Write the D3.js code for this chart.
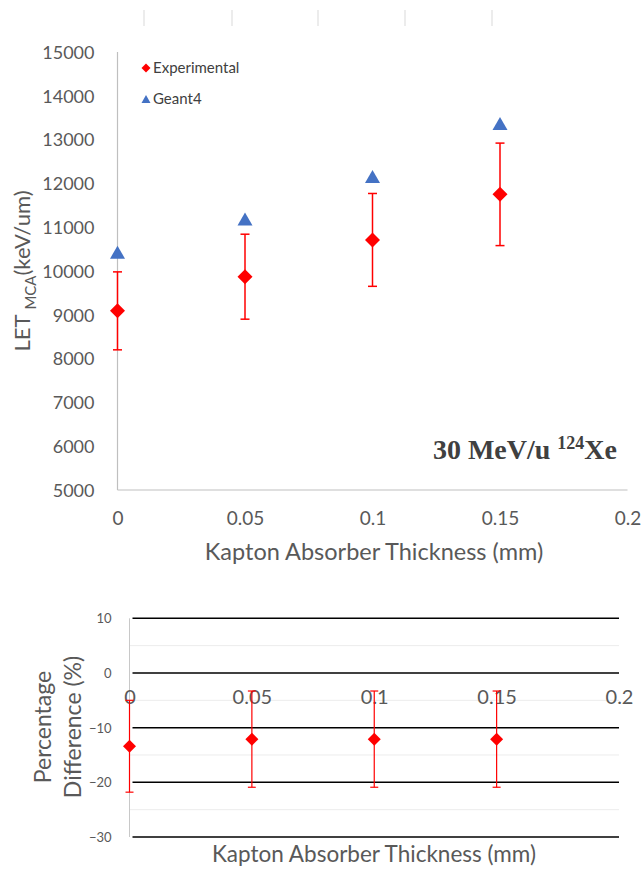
<!DOCTYPE html>
<html><head><meta charset="utf-8">
<script src="https://cdn.jsdelivr.net/npm/d3@7"></script>
<style>
html,body{margin:0;padding:0;background:#fff;}
svg{display:block;}
text{font-family:Lato,"Open Sans",sans-serif;}
</style></head>
<body>
<svg id="c" width="643" height="869"></svg>
<script>
// ---- data ----
const thickness = [0, 0.05, 0.1, 0.15];
const expLET = [9090, 9870, 10710, 11750];
const expErr = [890, 970, 1060, 1170];
const geant4LET = [10430, 11190, 12160, 13370];
const pctDiff = [-13.4, -12.1, -12.1, -12.1];
const pctErr = [8.4, 8.8, 8.8, 8.8];
const topYTicks = [5000, 6000, 7000, 8000, 9000, 10000, 11000, 12000, 13000, 14000, 15000];
const xTicks = [0, 0.05, 0.1, 0.15, 0.2];
const xTickLabels = ["0", "0.05", "0.1", "0.15", "0.2"];
const botYTicks = [-30, -20, -10, 0, 10];
const botMinor = [-25, -15, -5, 5];
const legendNames = ["Experimental", "Geant4"];

const svg = d3.select("#c");
const gray = "#595959";
const red = "#FF0000";
const blue = "#4472C4";

// decorative marks at the top (residue of cropped figure)
svg.selectAll("line.topmark").data([144, 232, 318, 405, 492]).enter().append("line")
  .attr("x1", d => d).attr("x2", d => d).attr("y1", 10).attr("y2", 26)
  .attr("stroke", "#d9d9d9").attr("stroke-width", 1);

// ================= TOP CHART =================
const x1 = d3.scaleLinear().domain([0, 0.2]).range([117.5, 627.5]);
const y1 = d3.scaleLinear().domain([5000, 15000]).range([490, 52]);

svg.append("line").attr("x1", x1(0)).attr("x2", x1(0)).attr("y1", y1(15000)).attr("y2", y1(5000))
  .attr("stroke", "#bfbfbf").attr("stroke-width", 1.2);
svg.append("line").attr("x1", x1(0)).attr("x2", x1(0.2)).attr("y1", y1(5000)).attr("y2", y1(5000))
  .attr("stroke", "#bfbfbf").attr("stroke-width", 1.2);

const yAx1 = svg.append("g").attr("transform", `translate(${x1(0) - 20},0)`)
  .call(d3.axisLeft(y1).tickValues(topYTicks).tickSize(0).tickFormat(d3.format("d")));
yAx1.select(".domain").remove();
yAx1.selectAll("text").attr("fill", gray).style("font-size", "18px").attr("dy", "0.35em");

const xAx1 = svg.append("g").attr("transform", `translate(0,${y1(5000) + 18})`)
  .call(d3.axisBottom(x1).tickValues(xTicks).tickSize(0).tickFormat((d, i) => xTickLabels[i]));
xAx1.select(".domain").remove();
xAx1.selectAll("text").attr("fill", gray).style("font-size", "19px").attr("dy", "0.71em");

svg.append("text").attr("x", 374).attr("y", 560).attr("text-anchor", "middle")
  .attr("fill", gray).style("font-size", "23.5px").text("Kapton Absorber Thickness (mm)");

const yl = svg.append("text").attr("transform", "translate(30,271) rotate(-90)")
  .attr("text-anchor", "middle").attr("fill", gray).style("font-size", "22px");
yl.append("tspan").text("LET");
yl.append("tspan").attr("dx", 5).attr("dy", 6).style("font-size", "15px").text("MCA");
yl.append("tspan").attr("dy", -6).text("(keV/um)");

// annotation
const ann = svg.append("text").attr("x", 617).attr("y", 459).attr("text-anchor", "end")
  .attr("fill", "#404040").style("font-family", "'Liberation Serif','DejaVu Serif',serif")
  .style("font-weight", "bold").style("font-size", "28px");
ann.append("tspan").text("30 MeV/u ");
ann.append("tspan").attr("dy", -10).style("font-size", "18px").text("124");
ann.append("tspan").attr("dy", 10).text("Xe");

// error bars top
const eb1 = svg.append("g");
thickness.forEach((t, i) => {
  const cx = x1(t), lo = y1(expLET[i] - expErr[i]), hi = y1(expLET[i] + expErr[i]);
  eb1.append("line").attr("x1", cx).attr("x2", cx).attr("y1", lo).attr("y2", hi).attr("stroke", red).attr("stroke-width", 1.5);
  [lo, hi].forEach(yy => eb1.append("line").attr("x1", cx - 4.5).attr("x2", cx + 4.5).attr("y1", yy).attr("y2", yy).attr("stroke", red).attr("stroke-width", 1.5));
});

const diamond = s => `M0,${-s}L${s},0L0,${s}L${-s},0Z`;
const tri = (w, h) => `M0,${-h / 2}L${w / 2},${h / 2}L${-w / 2},${h / 2}Z`;

svg.append("g").selectAll("path").data(thickness).enter().append("path")
  .attr("d", tri(15, 13)).attr("fill", blue)
  .attr("transform", (d, i) => `translate(${x1(d)},${y1(geant4LET[i])})`);
svg.append("g").selectAll("path").data(thickness).enter().append("path")
  .attr("d", diamond(7.5)).attr("fill", red)
  .attr("transform", (d, i) => `translate(${x1(d)},${y1(expLET[i])})`);

// legend
const lg = svg.append("g");
lg.append("path").attr("d", diamond(4.5)).attr("fill", red).attr("transform", "translate(146,68)");
lg.append("text").attr("x", 153).attr("y", 68).attr("dy", "0.35em").attr("fill", "#404040").style("font-size", "15px").text(legendNames[0]);
lg.append("path").attr("d", tri(9, 8)).attr("fill", blue).attr("transform", "translate(146,99)");
lg.append("text").attr("x", 153).attr("y", 99).attr("dy", "0.35em").attr("fill", "#404040").style("font-size", "15px").text(legendNames[1]);

// ================= BOTTOM CHART =================
const x2 = d3.scaleLinear().domain([0, 0.2]).range([129.5, 619]);
const y2 = d3.scaleLinear().domain([-30, 10]).range([837, 618.3]);

svg.append("g").selectAll("line").data(botMinor).enter().append("line")
  .attr("x1", x2(0)).attr("x2", x2(0.2)).attr("y1", d => y2(d)).attr("y2", d => y2(d))
  .attr("stroke", "#ececec").attr("stroke-width", 1);
svg.append("line").attr("x1", x2(0)).attr("x2", x2(0)).attr("y1", y2(10)).attr("y2", y2(-30))
  .attr("stroke", "#c8c8c8").attr("stroke-width", 1);
svg.append("g").selectAll("line").data(botYTicks).enter().append("line")
  .attr("x1", x2(0) + 3).attr("x2", x2(0.2)).attr("y1", d => y2(d)).attr("y2", d => y2(d))
  .attr("stroke", "#000").attr("stroke-width", 1.5);

const yAx2 = svg.append("g").attr("transform", `translate(${x2(0) - 15},0)`)
  .call(d3.axisLeft(y2).tickValues(botYTicks).tickSize(0));
yAx2.select(".domain").remove();
yAx2.selectAll("text").attr("fill", gray).style("font-size", "13px").attr("dy", "0.35em");

const xAx2 = svg.append("g").attr("transform", `translate(0,${y2(0) + 17})`)
  .call(d3.axisBottom(x2).tickValues(xTicks).tickSize(0).tickFormat((d, i) => xTickLabels[i]));
xAx2.select(".domain").remove();
xAx2.selectAll("text").attr("fill", gray).style("font-size", "20px").attr("dy", "0.71em").attr("y", 0);

svg.append("text").attr("x", 374).attr("y", 862).attr("text-anchor", "middle")
  .attr("fill", gray).style("font-size", "22.5px").text("Kapton Absorber Thickness (mm)");

const yl2 = svg.append("text").attr("transform", "translate(58,727) rotate(-90)")
  .attr("text-anchor", "middle").attr("fill", gray).style("font-size", "23px");
yl2.append("tspan").attr("x", 0).attr("dy", "-0.3em").text("Percentage");
yl2.append("tspan").attr("x", 0).attr("dy", "1.3em").text("Difference (%)");

const eb2 = svg.append("g");
thickness.forEach((t, i) => {
  const cx = x2(t), lo = y2(pctDiff[i] - pctErr[i]), hi = y2(pctDiff[i] + pctErr[i]);
  eb2.append("line").attr("x1", cx).attr("x2", cx).attr("y1", lo).attr("y2", hi).attr("stroke", red).attr("stroke-width", 1.2);
  [lo, hi].forEach(yy => eb2.append("line").attr("x1", cx - 4).attr("x2", cx + 4).attr("y1", yy).attr("y2", yy).attr("stroke", red).attr("stroke-width", 1.2));
});
svg.append("g").selectAll("path").data(thickness).enter().append("path")
  .attr("d", diamond(6.5)).attr("fill", red)
  .attr("transform", (d, i) => `translate(${x2(d)},${y2(pctDiff[i])})`);
</script>
</body></html>
